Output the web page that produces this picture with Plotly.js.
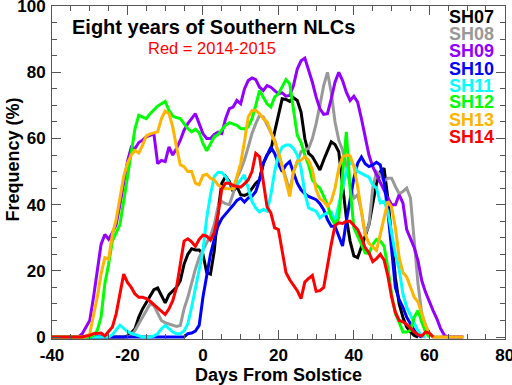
<!DOCTYPE html>
<html><head><meta charset="utf-8">
<script src="https://cdn.plot.ly/plotly-3.0.1.min.js"></script>
<style>html,body{margin:0;padding:0;background:#fff}#chart{width:512px;height:385px}</style>
</head><body><div id="chart"></div>
<script>
// Day of first value for every series (values are daily)
const startDay = -40;

const SH07 = [0,0,0,0,0,0,0,0,0,0,0,0,0,0,0,0,0,0,0,0,
  0.3,1.2,2.5,6,8.5,10.5,12.5,14.3,14.8,12.6,
  10.3,12.8,14,15,17,22,25,26.7,26.3,26.3,
  25,19.5,19,26,38,46.5,48.5,47,44,45.5,
  43,42.8,43.3,45,46.5,47.5,52.5,55,56.4,62,
  67,72,71.8,71.2,72.3,71.5,68,60,55.5,54.5,
  52.5,50.5,53.5,56.5,59,58.2,56,46,36,29,
  24.5,24,27,30.5,34,40,46.5,50,51,42,
  30,18,10,6,3,1.5,0.5,0];

const SH08 = [0,0,0,0,0,0,0,0,0,0,0,0,0,0,0,0,0,0,0,0,0,
  0.5,2,4,6,8,10,9.5,7,5,4.3,
  4,3.5,3.2,3.5,8.5,12,16.5,20.5,24,26.5,
  28.5,30.5,34,39.5,41,40.3,40,43.3,48,50.5,
  53.5,57.4,61.5,64.5,67,66.5,64,62,59.5,55.5,
  52,48,44,50,53,56,56.5,57,60,64.5,
  70,76,80,74,65,59.5,56.5,52,46,42,
  43,38,31,34,45,50,49,47,48,48,
  45.5,43.3,44,45,42,30,16,7,3.5,1,
  0,0,0,0,0,0,0,0,0];

const SH09 = [0,0,0,0,0,0,0,0,
  1,3,5,12,20,28,31,29.5,31.5,34,
  40,47,53,57.4,57,58.8,59.5,60.5,61,61.4,
  52.4,53.4,53,57.5,55,57,59.5,62.5,64.5,66,
  67.5,64.5,61.5,60,60,61.2,61.9,61.5,66,69,
  69.5,71.5,70.5,75,77.5,78.3,77.8,75.5,74.5,76,
  75.5,74.5,73.5,73.8,72.8,73,76,81,83.5,84.3,
  81,77,72.5,69,67.3,67.5,72,77,80,77.5,
  74,71.5,72.8,71,66,61,55,51.5,49,46.5,
  44.5,42,40,40,43,40.5,32.5,29.8,27,23,
  17,13.5,10.5,8,5.5,2.5,0.5,0,0,0,0,0];

const SH10 = [0,0,0,0,0,0,0,0,0,0,0,0,0,0,0,0,0,0,0,0,
  0,0,0,0,0,0,0,0,0,0,0,0,0,0,0,0,
  1,1.2,1.8,3.5,12,19,25,29.5,33.5,35.8,
  37,38.5,39.8,41.3,42,40.8,42,42.5,44,47.5,
  52.5,55,57.4,55.5,52.4,50,52,53,50,46.5,
  44.5,43.3,42.5,42,41.5,40.3,38.5,35.5,33.5,33.5,
  30.5,27.5,35,42,48,52.5,54.4,52.4,51.5,52,
  52.8,52,47,38,27,15,11.3,9,6,4,
  2,0.5,0];

const SH11 = [0,0,0,0,0,0,0,0,0,0,0,0,0,0,0,0,
  0.7,2.3,3.6,2.6,1.7,1.1,0.8,0.3,0,0,
  0,0.3,1,2.5,3.5,2.5,1.5,1,1,1.8,
  4,9,14.5,20,26,36,43,48.5,49.8,49.7,
  48.5,46.5,45.5,46,47.5,49,45,41,39,37.8,
  38.6,38,43,50,55,57.4,58,58,57,55,
  51,43.5,39,38.5,38,36,37,37.5,37.8,35,
  40,45,50,53,52,50,49.4,49,48.3,46,
  45,40.5,41,38,31,25,20.5,13,9,6.5,
  4,1.8,0.3,0];

const SH12 = [0,0,0,0,0,0,0,0,0,0,0,
  0.5,2,6,16,22,29,31.5,34,41,48.5,
  55.5,63,67,66.5,66,67.5,68.5,69.8,70.5,71.2,
  68.5,66.8,66.3,66,64.5,63,62,62.8,61.8,58.5,
  56.3,58.5,60.5,61.2,62.5,64,64.8,64.5,64,63,
  62.9,63.5,66,70,74.5,72.5,70.5,69.5,72.5,73.5,
  75.5,77.8,76.5,68,61,58.8,55,52,47.5,46,
  45,42.5,40,36,34,36,50,62,45,33,
  30.5,28,25.5,25.2,28,29.5,29,27.5,21,13,
  7,4.5,1.5,1.5,2,6,8,4.5,1.5,0];

const SH13 = [0,0,0,0,0,0,0,0,0,0,
  1,6,12,19,24,23.5,31,35.5,41.5,48.5,
  52.5,55,56.4,55.6,58,60.8,61.4,61.6,62,66,
  68.3,67.5,63.5,57.4,52,51.5,50,50,46.5,46,
  48.8,49.2,48,47.5,46,45.3,44.8,44.8,44.8,48.5,
  52.5,59,66.5,68.4,68.5,67.5,66,65,62,59.5,
  56,51.5,46.5,42.5,50,53,53.5,54.5,53.5,50.5,
  44.5,41.8,41,39.5,41,45,51,54.4,55,54.8,
  51.5,45.5,38,31,28.3,27.3,26.2,31,36,41,
  39.3,33,24,19.5,18.1,15,12,10.6,7,3.5,
  1,0,0,0,0,0,0,0,0,0];

const SH14 = [0,0,0,0,0,0,0,0,0,
  0.3,0.5,1,1,1.2,0.3,1.5,3,7,13,19,
  16.5,15,13,12,12,11.6,10.8,9.8,8.5,7.5,
  6.8,8.5,11,15,22,29,29.7,28.8,27.4,29.5,
  30.8,30.5,29.3,31.5,37,44.8,46.5,46.5,45.8,45.5,
  45.3,46.3,47.5,50,55.5,54.5,47,39.3,37.5,33,
  32.5,26,19.5,17.3,15.8,14,11.6,16.6,17.7,18.6,
  13.8,14,15,22,28,33.7,34.5,34.3,35,35,
  33.8,32.5,30,27,25.5,22.8,23.7,25,23.3,18.5,
  12,7.5,5,4.6,3.8,2.5,1.5,0.7,0.3,1.5,
  1.2,0];

const seriesNames = ['SH07','SH08','SH09','SH10','SH11','SH12','SH13','SH14'];
const seriesValues = [SH07, SH08, SH09, SH10, SH11, SH12, SH13, SH14];
const seriesColors = ['#000000','#999999','#9400FF','#0000FF','#00FFFF','#00FF00','#FFB400','#FF0000'];

const xTickVals = [-40,-20,0,20,40,60,80];
const xTickText = ['-40','-20','0','20','40','60','80'];
const yTickVals = [0,20,40,60,80,100];
const yTickText = ['0','20','40','60','80','100'];

const chartTitle = 'Eight years of Southern NLCs';
const subTitle = 'Red = 2014-2015';
const xTitle = 'Days From Solstice';
const yTitle = 'Frequency (%)';

// ---------- layout geometry (pixels) ----------
const W = 512, H = 385;
const M = {l:52, r:7, t:6, b:46};
const PW = W - M.l - M.r, PH = H - M.t - M.b;
const px2x = px => (px - M.l) / PW;
const py2y = py => (H - M.b - py) / PH;

const FONT = 'Liberation Sans, Arial, Helvetica, sans-serif';
const axisColor = '#555555';

const traces = seriesValues.map((vals, k) => ({
  type: 'scatter', mode: 'lines',
  x: vals.map((_, i) => startDay + i),
  y: vals,
  line: {color: seriesColors[k], width: 3},
  name: seriesNames[k],
  hoverinfo: 'skip'
}));

const annotations = [
  {text: chartTitle, xref:'paper', yref:'paper', x: px2x(70), y: py2y(27),
   xanchor:'left', yanchor:'middle', showarrow:false,
   font:{family:FONT, size:20, color:'#000', weight:'bold'}},
  {text: subTitle, xref:'paper', yref:'paper', x: px2x(211.5), y: py2y(48),
   xanchor:'center', yanchor:'middle', showarrow:false,
   font:{family:FONT, size:16.5, color:'#FF0000'}},
  {text: xTitle, xref:'paper', yref:'paper', x: px2x(278.5), y: py2y(375),
   xanchor:'center', yanchor:'middle', showarrow:false,
   font:{family:FONT, size:18, color:'#000', weight:'bold'}},
  {text: yTitle, xref:'paper', yref:'paper', x: px2x(12), y: py2y(159.5),
   xanchor:'center', yanchor:'middle', showarrow:false, textangle:-90,
   font:{family:FONT, size:18, color:'#000', weight:'bold'}}
];
const legendY = [17.3, 34, 51.5, 68.5, 85.5, 102.5, 119.5, 136.7];
seriesNames.forEach((n, k) => annotations.push({
  text: n, xref:'paper', yref:'paper', x: px2x(447), y: py2y(legendY[k]),
  xanchor:'left', yanchor:'middle', showarrow:false,
  font:{family:FONT, size:18, color: seriesColors[k], weight:'bold'}
}));

const layout = {
  width: W, height: H,
  margin: M,
  paper_bgcolor:'#fff', plot_bgcolor:'#fff',
  showlegend:false,
  xaxis: {
    range:[-40,80.05], tickmode:'array', tickvals:xTickVals, ticktext:xTickText,
    ticks:'inside', ticklen:9, tickwidth:1, tickcolor:axisColor,
    showline:true, linecolor:axisColor, linewidth:1, mirror:'ticks',
    showgrid:false, zeroline:false, ticklabeloverflow:'allow',
    tickfont:{family:FONT, size:17, color:'#000', weight:'bold'},
    ticklabelstandoff: 1,
    minor:{tickmode:'linear', tick0:0, dtick:5, ticks:'inside', ticklen:5, tickcolor:axisColor, showgrid:false}
  },
  yaxis: {
    range:[-0.6,100.05], tickmode:'array', tickvals:yTickVals, ticktext:yTickText,
    ticks:'inside', ticklen:9, tickwidth:1, tickcolor:axisColor,
    showline:true, linecolor:axisColor, linewidth:1, mirror:'ticks',
    showgrid:false, zeroline:false, ticklabeloverflow:'allow',
    tickfont:{family:FONT, size:17, color:'#000', weight:'bold'},
    ticklabelstandoff: 2,
    minor:{tickmode:'linear', tick0:0, dtick:5, ticks:'inside', ticklen:5, tickcolor:axisColor, showgrid:false}
  },
  annotations: annotations
};

Plotly.newPlot('chart', traces, layout, {staticPlot:true, displayModeBar:false});
</script></body></html>
